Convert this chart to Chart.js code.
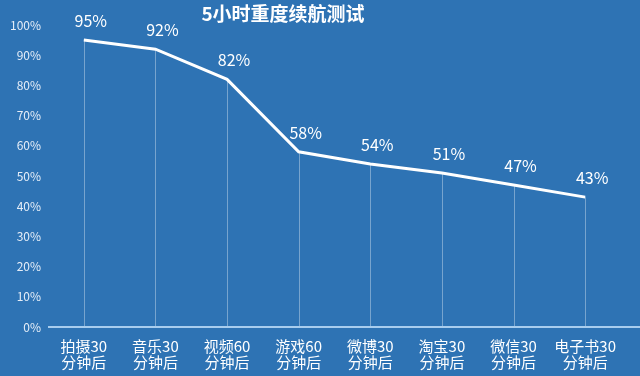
<!DOCTYPE html>
<html>
<head>
<meta charset="utf-8">
<script src="https://cdn.jsdelivr.net/npm/chart.js@4.4.1/dist/chart.umd.min.js"></script>
<style>
  html, body { margin: 0; padding: 0; background: #2e73b4; }
  #wrap { width: 640px; height: 376px; }
</style>
</head>
<body>
<div id="wrap"><canvas id="c"></canvas></div>
<script>
const titleText = '5小时重度续航测试';
const categories = [
  ['拍摄30', '分钟后'],
  ['音乐30', '分钟后'],
  ['视频60', '分钟后'],
  ['游戏60', '分钟后'],
  ['微博30', '分钟后'],
  ['淘宝30', '分钟后'],
  ['微信30', '分钟后'],
  ['电子书30', '分钟后']
];
const battery = [95, 92, 82, 58, 54, 51, 47, 43];

const FONT = '"Noto Sans CJK SC", "Noto Sans", sans-serif';

// drop lines, extended x axis line, value labels and title
const decor = {
  id: 'decor',
  beforeDatasetsDraw(chart) {
    const { ctx, chartArea } = chart;
    const meta = chart.getDatasetMeta(0);
    ctx.save();
    ctx.strokeStyle = 'rgba(255,255,255,0.35)';
    ctx.lineWidth = 1;
    meta.data.forEach(p => {
      ctx.beginPath();
      ctx.moveTo(Math.round(p.x) + 0.5, p.y);
      ctx.lineTo(Math.round(p.x) + 0.5, chartArea.bottom);
      ctx.stroke();
    });
    ctx.strokeStyle = '#a8cdee';
    ctx.lineWidth = 2;
    ctx.beginPath();
    ctx.moveTo(chartArea.left, chartArea.bottom);
    ctx.lineTo(chart.width, chartArea.bottom);
    ctx.stroke();
    ctx.restore();
  },
  afterDatasetsDraw(chart) {
    const { ctx } = chart;
    const meta = chart.getDatasetMeta(0);
    ctx.save();
    ctx.fillStyle = '#ffffff';
    ctx.font = '16px ' + FONT;
    ctx.textAlign = 'center';
    ctx.textBaseline = 'middle';
    meta.data.forEach((p, i) => {
      ctx.fillText(battery[i] + '%', p.x + 7, p.y - 19);
    });
    ctx.font = 'bold 19px ' + FONT;
    ctx.fillText(titleText, 283, 14);
    ctx.restore();
  }
};

new Chart(document.getElementById('c'), {
  type: 'line',
  data: {
    labels: categories,
    datasets: [{
      data: battery,
      borderColor: '#ffffff',
      borderWidth: 3,
      pointRadius: 0,
      tension: 0,
      fill: false
    }]
  },
  options: {
    responsive: true,
    maintainAspectRatio: false,
    animation: false,
    layout: { padding: { top: 25, right: 19, left: 0, bottom: 0 } },
    plugins: {
      legend: { display: false },
      tooltip: { enabled: false }
    },
    scales: {
      x: {
        offset: true,
        grid: { display: false, drawTicks: false },
        border: { display: false },
        ticks: {
          color: '#ffffff',
          font: { family: FONT, size: 15, lineHeight: 1.1 },
          padding: 11,
          maxRotation: 0,
          autoSkip: false
        },
        afterFit: s => { s.height = 49; }
      },
      y: {
        min: 0,
        max: 100,
        ticks: {
          stepSize: 10,
          color: '#e6eef8',
          font: { family: FONT, size: 12 },
          padding: 7,
          callback: v => v + '%'
        },
        grid: { display: false, drawTicks: false },
        border: { display: false },
        afterFit: s => { s.width = 48; }
      }
    }
  },
  plugins: [decor]
});
</script>
</body>
</html>
